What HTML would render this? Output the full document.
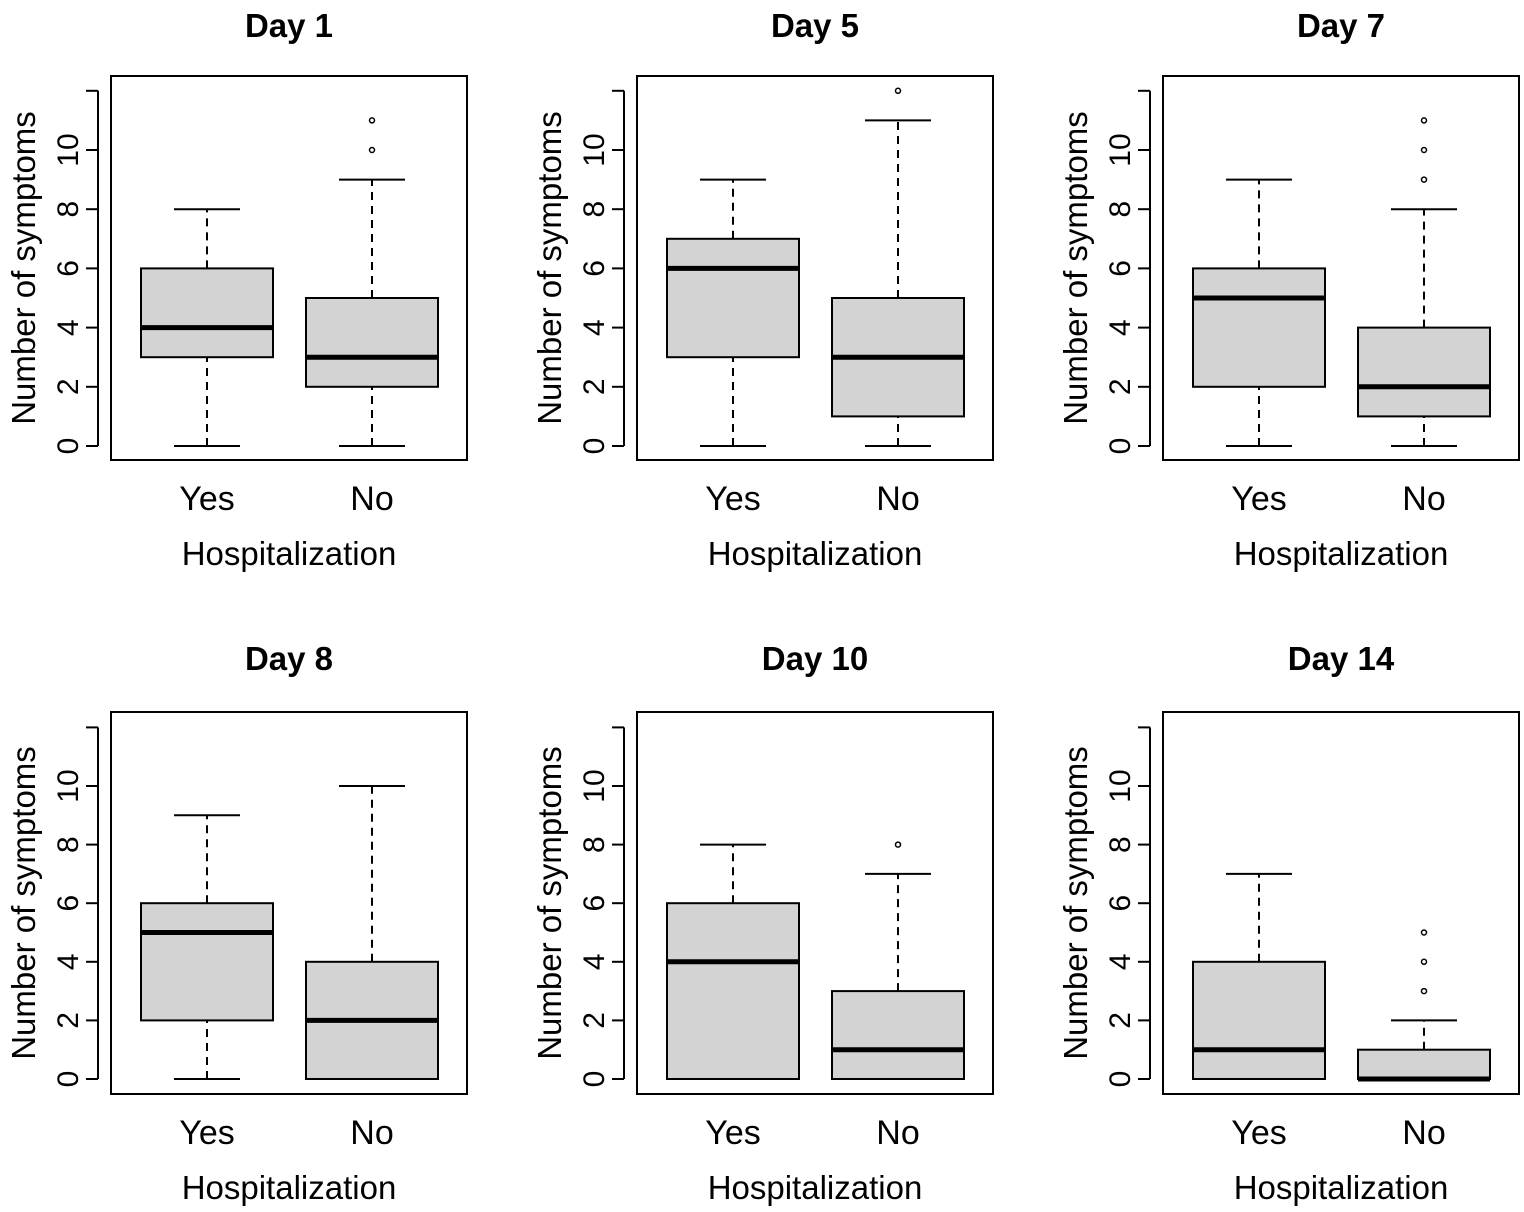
<!DOCTYPE html>
<html><head><meta charset="utf-8"><style>
html,body{margin:0;padding:0;background:#fff;}
svg{display:block;font-family:"Liberation Sans",Arial,sans-serif;}
</style></head><body>
<svg id="chart" width="1524" height="1212" viewBox="0 0 1524 1212"></svg>
<script>
const panelTitles = ["Day 1","Day 5","Day 7","Day 8","Day 10","Day 14"];
const groupNames = ["Yes","No"];
// [min, q1, median, q3, max]
const yesStats = [[0,3,4,6,8],[0,3,6,7,9],[0,2,5,6,9],[0,2,5,6,9],[0,0,4,6,8],[0,0,1,4,7]];
const noStats  = [[0,2,3,5,9],[0,1,3,5,11],[0,1,2,4,8],[0,0,2,4,10],[0,0,1,3,7],[0,0,0,1,2]];
const yesOutliers = [[],[],[],[],[],[]];
const noOutliers  = [[10,11],[12],[9,10,11],[],[8],[3,4,5]];
const yTicks = [0,2,4,6,8,10,12];
const yTickLabels = ["0","2","4","6","8","10",""];

const NS="http://www.w3.org/2000/svg";
const svg=document.getElementById('chart');
function mk(tag,attrs,parent){const e=document.createElementNS(NS,tag);for(const k in attrs)e.setAttribute(k,attrs[k]);(parent||svg).appendChild(e);return e;}

for(let p=0;p<6;p++){
  const col=p%3,row=Math.floor(p/3);
  const ox=col*526;
  const y0=row===0?446:1079, y10=row===0?150:786;
  const ys=v=>y0+(y10-y0)*v/10;
  const top=row===0?76:712, bot=row===0?460:1094;
  const g=mk('g',{});
  
  
  const t=mk('text',{x:289+ox,y:row===0?37:670,'text-anchor':'middle','font-size':33,'font-weight':'bold',fill:'#000'},g);
  t.textContent=panelTitles[p];
  
  const frame=mk('rect',{x:111+ox,y:top,width:356,height:bot-top,fill:'none',stroke:'#000','stroke-width':2},g);
  
  const ax=mk('line',{x1:98+ox,x2:98+ox,y1:ys(0),y2:ys(12),stroke:'#000','stroke-width':2},g);
  
  yTicks.forEach((v,i)=>{
    mk('line',{x1:86+ox,x2:98+ox,y1:ys(v),y2:ys(v),stroke:'#000','stroke-width':2},g);
    if(yTickLabels[i]){
      const tl=mk('text',{x:0,y:0,transform:`translate(${78+ox},${ys(v)}) rotate(-90)`,'text-anchor':'middle','font-size':30,fill:'#000'},g);
      tl.textContent=yTickLabels[i];
      
    }
  });
  const yl=mk('text',{x:0,y:0,transform:`translate(${35+ox},${(top+bot)/2}) rotate(-90)`,'text-anchor':'middle','font-size':33,fill:'#000'},g);
  yl.textContent='Number of symptoms';
  
  const xl=mk('text',{x:289+ox,y:bot+105,'text-anchor':'middle','font-size':33,fill:'#000'},g);
  xl.textContent='Hospitalization';
  
  const stats=[yesStats[p],noStats[p]], outs=[yesOutliers[p],noOutliers[p]];
  [207,372].forEach((cx,gi)=>{
    cx+=ox;
    const s=stats[gi];
    const lab=mk('text',{x:cx,y:bot+50,'text-anchor':'middle','font-size':34,fill:'#000'},g);
    lab.textContent=groupNames[gi];
    
    const bg=mk('g',{},g);
    
    mk('line',{x1:cx,x2:cx,y1:ys(s[0]),y2:ys(s[1]),stroke:'#000','stroke-width':2,'stroke-dasharray':'8,6'},bg);
    mk('line',{x1:cx,x2:cx,y1:ys(s[3]),y2:ys(s[4]),stroke:'#000','stroke-width':2,'stroke-dasharray':'8,6'},bg);
    mk('line',{x1:cx-33,x2:cx+33,y1:ys(s[0]),y2:ys(s[0]),stroke:'#000','stroke-width':2},bg);
    mk('line',{x1:cx-33,x2:cx+33,y1:ys(s[4]),y2:ys(s[4]),stroke:'#000','stroke-width':2},bg);
    mk('rect',{x:cx-66,y:ys(s[3]),width:132,height:Math.max(ys(s[1])-ys(s[3]),0),fill:'#d3d3d3',stroke:'#000','stroke-width':2},bg);
    mk('line',{x1:cx-66,x2:cx+66,y1:ys(s[2]),y2:ys(s[2]),stroke:'#000','stroke-width':5},bg);
    outs[gi].forEach(v=>{
      const c=mk('circle',{cx:cx,cy:ys(v),r:2.5,fill:'none',stroke:'#000','stroke-width':1.5},bg);
      
    });
  });
}
</script>
</body></html>
